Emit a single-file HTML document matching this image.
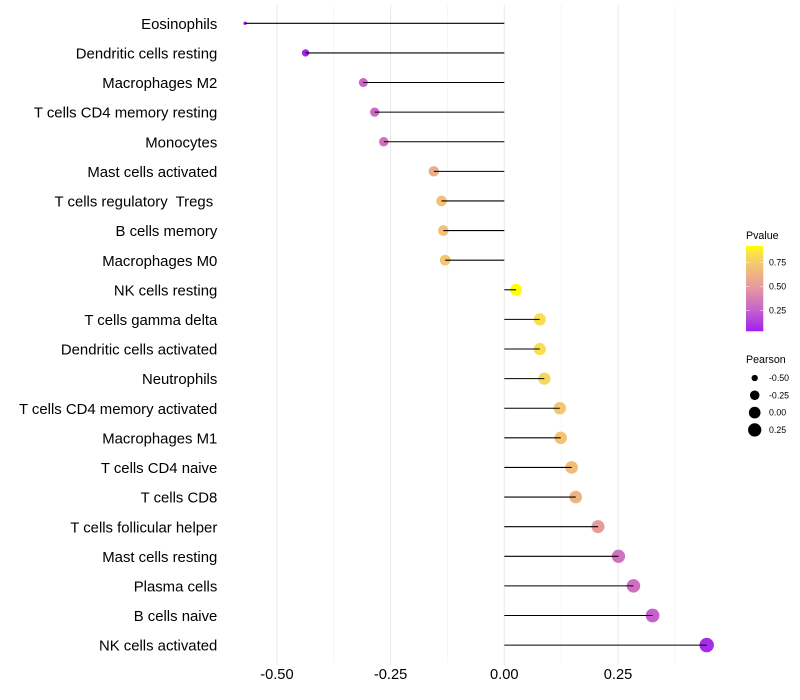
<!DOCTYPE html>
<html>
<head>
<meta charset="utf-8">
<title>Immune cell correlation lollipop chart</title>
<style>
html,body{margin:0;padding:0;background:#fff;}
svg{display:block;}
text{font-family:"Liberation Sans",sans-serif;white-space:pre;}
</style>
</head>
<body>
<svg id="chart" xmlns="http://www.w3.org/2000/svg" width="800" height="700" viewBox="0 0 800 700">
  <defs>
    <linearGradient id="pvalue-gradient" x1="0" y1="1" x2="0" y2="0"></linearGradient>
  </defs>
  <rect width="800" height="700" fill="#fff"></rect>
  <g id="grid"></g>
  <g id="marks"></g>
  <g id="ylabels"></g>
  <g id="xlabels"></g>
  <g id="legend-color"></g>
  <g id="legend-size"></g>
</svg>
<script>
const categories = ["Eosinophils","Dendritic cells resting","Macrophages M2","T cells CD4 memory resting","Monocytes","Mast cells activated","T cells regulatory  Tregs ","B cells memory","Macrophages M0","NK cells resting","T cells gamma delta","Dendritic cells activated","Neutrophils","T cells CD4 memory activated","Macrophages M1","T cells CD4 naive","T cells CD8","T cells follicular helper","Mast cells resting","Plasma cells","B cells naive","NK cells activated"];
const pearsonValues = [-0.57,-0.437,-0.31,-0.285,-0.265,-0.155,-0.138,-0.134,-0.13,0.026,0.078,0.078,0.088,0.122,0.124,0.148,0.157,0.206,0.251,0.284,0.326,0.445];
const pValues = [0.04,0.05,0.27,0.29,0.32,0.6,0.7,0.7,0.72,0.92,0.83,0.83,0.8,0.73,0.71,0.68,0.64,0.5,0.32,0.31,0.25,0.07];
const xTicks = [-0.5,-0.25,0,0.25];
const xTickLabels = ["-0.50","-0.25","0.00","0.25"];
const xMinorTicks = [-0.375,-0.125,0.125,0.375];
const colorTicks = [0.25,0.5,0.75];
const colorTickLabels = ["0.25","0.50","0.75"];
const sizeBreaks = [-0.5,-0.25,0,0.25];
const sizeBreakLabels = ["-0.50","-0.25","0.00","0.25"];

const NS = "http://www.w3.org/2000/svg";
function make(tag, attrs, parent, txt){
  const el = document.createElementNS(NS, tag);
  for (const k in attrs) el.setAttribute(k, attrs[k]);
  if (txt !== undefined) el.textContent = txt;
  parent.appendChild(el);
  return el;
}
const slug = s => s.trim().toLowerCase().replace(/\s+/g, '-');

// Axis functions
const xScale = v => 504.3 + 454.8 * v;
const yScale = i => 23.3 + 29.61 * i;
const pMin = 0.034, pMax = 0.92;
const colorY = p => 310.3 - (p - 0.25) * 96;
const gradientStops = [[0,[160,32,240]],[0.25,[198,98,204]],[0.5,[229,150,160]],[0.75,[242,192,118]],[0.9,[249,222,82]],[1,[255,255,0]]];
function colorScale(p){
  const t = Math.max(0, Math.min(1, (p - pMin) / (pMax - pMin)));
  for (let i = 1; i < gradientStops.length; i++){
    if (t <= gradientStops[i][0]){
      const a = gradientStops[i-1], b = gradientStops[i];
      const f = (t - a[0]) / (b[0] - a[0]);
      const c = a[1].map((x, j) => Math.round(x + (b[1][j] - x) * f));
      return 'rgb(' + c.join(',') + ')';
    }
  }
  return 'rgb(255,255,0)';
}
const sizeMin = -0.57, sizeMax = 0.445;
const radius = v => (3.4 + 11 * Math.sqrt(Math.max(0, (v - sizeMin) / (sizeMax - sizeMin)))) / 2;

// Grid
const grid = document.getElementById('grid');
xTicks.forEach((t, i) => {
  const l = make('line', {x1:xScale(t), x2:xScale(t), y1:5, y2:665, stroke:'#ebebeb', 'stroke-width':1.07}, grid);
  
  
});
xMinorTicks.forEach(t => {
  const l = make('line', {x1:xScale(t), x2:xScale(t), y1:5, y2:663, stroke:'#f0f0f0', 'stroke-width':0.6}, grid);
  
  
});

// Marks
const marks = document.getElementById('marks');
categories.forEach((c, i) => {
  const v = pearsonValues[i], y = yScale(i);
  const dot = make('circle', {cx:xScale(v), cy:y, r:radius(v), fill:colorScale(pValues[i])}, marks);
  
  
  const seg = make('line', {x1:xScale(0), x2:xScale(v), y1:y, y2:y, stroke:'#000', 'stroke-width':1.07}, marks);
  
  
});

// Y labels
const yl = document.getElementById('ylabels');
categories.forEach((c, i) => {
  const t = make('text', {x:217.3, y:yScale(i)+5.6, 'text-anchor':'end', 'font-size':14.9, fill:'#000'}, yl, c);
  
  
});

// X labels
const xl = document.getElementById('xlabels');
xTicks.forEach((v, i) => {
  const t = make('text', {x:xScale(v), y:678.8, 'text-anchor':'middle', 'font-size':14.67, fill:'#000'}, xl, xTickLabels[i]);
  
  
});

// Colour legend
const lc = document.getElementById('legend-color');
const grad = document.getElementById('pvalue-gradient');
gradientStops.forEach(s => {
  make('stop', {offset:s[0], 'stop-color':'rgb(' + s[1].join(',') + ')'}, grad);
});
const lt = make('text', {x:746, y:239, 'font-size':10.67, fill:'#000'}, lc, 'Pvalue');


const bar = make('rect', {x:746, y:246, width:17.3, height:85.3, fill:'url(#pvalue-gradient)'}, lc);


colorTicks.forEach((p, i) => {
  const y = colorY(p);
  [[746,749.5],[759.8,763.3]].forEach(e => {
    const k = make('line', {x1:e[0], x2:e[1], y1:y, y2:y, stroke:'#fff', 'stroke-opacity':0.75, 'stroke-width':0.6}, lc);
    
    
  });
  const t = make('text', {x:769, y:y+3, 'font-size':8.8, fill:'#000'}, lc, colorTickLabels[i]);
  
  
});

// Size legend
const ls = document.getElementById('legend-size');
const st = make('text', {x:746, y:363, 'font-size':10.67, fill:'#000'}, ls, 'Pearson');


sizeBreaks.forEach((v, i) => {
  const y = 378 + 17.3 * i;
  const d = make('circle', {cx:754.7, cy:y, r:radius(v), fill:'#000'}, ls);
  
  
  const t = make('text', {x:769, y:y+3, 'font-size':8.8, fill:'#000'}, ls, sizeBreakLabels[i]);
  
  
});
</script>
</body>
</html>
